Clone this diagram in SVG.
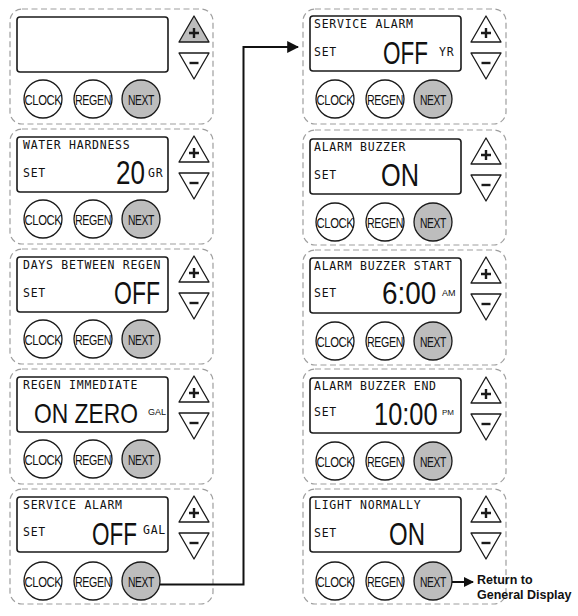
<svg xmlns="http://www.w3.org/2000/svg" width="578" height="616" viewBox="0 0 578 616">
<style>
.frame{fill:none;stroke:#9e9e9e;stroke-width:1.2;stroke-dasharray:6 3.5}
.lcd{fill:#fff;stroke:#1a1a1a;stroke-width:1.6}
.tri{fill:#fff;stroke:#1a1a1a;stroke-width:1.3;stroke-linejoin:round}
.tri.on{fill:#bdbdbd}
.sign{fill:none;stroke:#1a1a1a;stroke-width:2.4}
.btn{fill:#fff;stroke:#1a1a1a;stroke-width:1.3}
.btn.next{fill:#bdbdbd}
.bl{font-family:"Liberation Sans",Arial,sans-serif;font-size:14px;fill:#111;text-anchor:middle;letter-spacing:-0.5px}
.ttl{font-family:"DejaVu Sans Mono",monospace;font-size:11.5px;letter-spacing:0.75px;fill:#111}
.big{font-family:"Liberation Sans",Arial,sans-serif;font-size:31px;fill:#111}
.unit{font-family:"Liberation Sans",Arial,sans-serif;font-size:9px;fill:#111}
.conn{fill:none;stroke:#111;stroke-width:2}
.ret{font-family:"Liberation Sans",Arial,sans-serif;font-size:12.5px;font-weight:bold;fill:#111}
</style>
<defs>
<marker id="ah" viewBox="0 0 10 10" refX="9" refY="5" markerWidth="12" markerHeight="13" markerUnits="userSpaceOnUse" orient="auto"><path d="M0,0 L10,5 L0,10 Z" fill="#111"/></marker>
<marker id="ah2" viewBox="0 0 10 10" refX="9" refY="5" markerWidth="10" markerHeight="10" markerUnits="userSpaceOnUse" orient="auto"><path d="M0,0 L10,5 L0,10 Z" fill="#111"/></marker>
</defs>

<!-- LEFT COLUMN -->
<g id="panel-l1">
<rect class="frame" x="10" y="9" width="203" height="115" rx="12"/>
<rect class="lcd" x="17" y="17" width="151" height="55" rx="3"/>
<path class="tri on" d="M194,16 L209,42 L179,42 Z"/><path class="sign" d="M189,33 h10 M194,28 v10"/>
<path class="tri" d="M179,53 L209,53 L194,79 Z"/><path class="sign" d="M189.5,63 h9"/>
<circle class="btn" cx="43" cy="99" r="19"/><circle class="btn" cx="93" cy="99" r="19"/><circle class="btn next" cx="141" cy="99" r="19"/>
<text class="bl" x="43" y="104.5" textLength="37" lengthAdjust="spacingAndGlyphs">CLOCK</text>
<text class="bl" x="93" y="104.5" textLength="36" lengthAdjust="spacingAndGlyphs">REGEN</text>
<text class="bl" x="141" y="104.5" textLength="26" lengthAdjust="spacingAndGlyphs">NEXT</text>
</g>

<g id="panel-l2">
<rect class="frame" x="10" y="129" width="203" height="115" rx="12"/>
<rect class="lcd" x="17" y="137" width="151" height="55" rx="3"/>
<path class="tri" d="M194,136 L209,162 L179,162 Z"/><path class="sign" d="M189,153 h10 M194,148 v10"/>
<path class="tri" d="M179,173 L209,173 L194,199 Z"/><path class="sign" d="M189.5,183 h9"/>
<circle class="btn" cx="43" cy="219" r="19"/><circle class="btn" cx="93" cy="219" r="19"/><circle class="btn next" cx="141" cy="219" r="19"/>
<text class="bl" x="43" y="224.5" textLength="37" lengthAdjust="spacingAndGlyphs">CLOCK</text>
<text class="bl" x="93" y="224.5" textLength="36" lengthAdjust="spacingAndGlyphs">REGEN</text>
<text class="bl" x="141" y="224.5" textLength="26" lengthAdjust="spacingAndGlyphs">NEXT</text>
<text class="ttl" x="23" y="149">WATER HARDNESS</text>
<text class="ttl" x="23" y="177">SET</text>
<text class="big" style="font-size:33px" transform="translate(116,184) scale(0.79,1)">20</text>
<text class="ttl" x="148" y="177">GR</text>
</g>

<g id="panel-l3">
<rect class="frame" x="10" y="249" width="203" height="115" rx="12"/>
<rect class="lcd" x="17" y="257" width="151" height="55" rx="3"/>
<path class="tri" d="M194,256 L209,282 L179,282 Z"/><path class="sign" d="M189,273 h10 M194,268 v10"/>
<path class="tri" d="M179,293 L209,293 L194,319 Z"/><path class="sign" d="M189.5,303 h9"/>
<circle class="btn" cx="43" cy="339" r="19"/><circle class="btn" cx="93" cy="339" r="19"/><circle class="btn next" cx="141" cy="339" r="19"/>
<text class="bl" x="43" y="344.5" textLength="37" lengthAdjust="spacingAndGlyphs">CLOCK</text>
<text class="bl" x="93" y="344.5" textLength="36" lengthAdjust="spacingAndGlyphs">REGEN</text>
<text class="bl" x="141" y="344.5" textLength="26" lengthAdjust="spacingAndGlyphs">NEXT</text>
<text class="ttl" x="23" y="269">DAYS BETWEEN REGEN</text>
<text class="ttl" x="23" y="297">SET</text>
<text class="big" transform="translate(114,304) scale(0.742,1)">OFF</text>
</g>

<g id="panel-l4">
<rect class="frame" x="10" y="369" width="203" height="115" rx="12"/>
<rect class="lcd" x="17" y="377" width="151" height="55" rx="3"/>
<path class="tri" d="M194,376 L209,402 L179,402 Z"/><path class="sign" d="M189,393 h10 M194,388 v10"/>
<path class="tri" d="M179,413 L209,413 L194,439 Z"/><path class="sign" d="M189.5,423 h9"/>
<circle class="btn" cx="43" cy="459" r="19"/><circle class="btn" cx="93" cy="459" r="19"/><circle class="btn next" cx="141" cy="459" r="19"/>
<text class="bl" x="43" y="464.5" textLength="37" lengthAdjust="spacingAndGlyphs">CLOCK</text>
<text class="bl" x="93" y="464.5" textLength="36" lengthAdjust="spacingAndGlyphs">REGEN</text>
<text class="bl" x="141" y="464.5" textLength="26" lengthAdjust="spacingAndGlyphs">NEXT</text>
<text class="ttl" x="23" y="389">REGEN IMMEDIATE</text>
<text class="big" style="font-size:28px" transform="translate(34,423) scale(0.815,1)">ON ZERO</text>
<text class="unit" x="148" y="415">GAL</text>
</g>

<g id="panel-l5">
<rect class="frame" x="10" y="489" width="203" height="115" rx="12"/>
<rect class="lcd" x="17" y="497" width="151" height="55" rx="3"/>
<path class="tri" d="M194,496 L209,522 L179,522 Z"/><path class="sign" d="M189,513 h10 M194,508 v10"/>
<path class="tri" d="M179,533 L209,533 L194,559 Z"/><path class="sign" d="M189.5,543 h9"/>
<circle class="btn" cx="43" cy="581" r="19"/><circle class="btn" cx="93" cy="581" r="19"/><circle class="btn next" cx="141" cy="581" r="19"/>
<text class="bl" x="43" y="586.5" textLength="37" lengthAdjust="spacingAndGlyphs">CLOCK</text>
<text class="bl" x="93" y="586.5" textLength="36" lengthAdjust="spacingAndGlyphs">REGEN</text>
<text class="bl" x="141" y="586.5" textLength="26" lengthAdjust="spacingAndGlyphs">NEXT</text>
<text class="ttl" x="23" y="509">SERVICE ALARM</text>
<text class="ttl" x="23" y="536">SET</text>
<text class="big" transform="translate(92,545) scale(0.726,1)">OFF</text>
<text class="ttl" x="143" y="534">GAL</text>
</g>

<!-- RIGHT COLUMN -->
<g id="panel-r1">
<rect class="frame" x="303" y="9" width="203" height="115" rx="12"/>
<rect class="lcd" x="310" y="16" width="151" height="55" rx="3"/>
<path class="tri" d="M486,16 L501,42 L471,42 Z"/><path class="sign" d="M481,33 h10 M486,28 v10"/>
<path class="tri" d="M471,53 L501,53 L486,79 Z"/><path class="sign" d="M481.5,63 h9"/>
<circle class="btn" cx="335" cy="99" r="19"/><circle class="btn" cx="385" cy="99" r="19"/><circle class="btn next" cx="433" cy="99" r="19"/>
<text class="bl" x="335" y="104.5" textLength="37" lengthAdjust="spacingAndGlyphs">CLOCK</text>
<text class="bl" x="385" y="104.5" textLength="36" lengthAdjust="spacingAndGlyphs">REGEN</text>
<text class="bl" x="433" y="104.5" textLength="26" lengthAdjust="spacingAndGlyphs">NEXT</text>
<text class="ttl" x="314" y="28">SERVICE ALARM</text>
<text class="ttl" x="314" y="56">SET</text>
<text class="big" transform="translate(383,64) scale(0.726,1)">OFF</text>
<text class="ttl" x="439" y="56">YR</text>
</g>

<g id="panel-r2">
<rect class="frame" x="303" y="130" width="203" height="115" rx="12"/>
<rect class="lcd" x="310" y="139" width="151" height="55" rx="3"/>
<path class="tri" d="M486,138 L501,164 L471,164 Z"/><path class="sign" d="M481,155 h10 M486,150 v10"/>
<path class="tri" d="M471,175 L501,175 L486,201 Z"/><path class="sign" d="M481.5,185 h9"/>
<circle class="btn" cx="335" cy="222" r="19"/><circle class="btn" cx="385" cy="222" r="19"/><circle class="btn next" cx="433" cy="222" r="19"/>
<text class="bl" x="335" y="227.5" textLength="37" lengthAdjust="spacingAndGlyphs">CLOCK</text>
<text class="bl" x="385" y="227.5" textLength="36" lengthAdjust="spacingAndGlyphs">REGEN</text>
<text class="bl" x="433" y="227.5" textLength="26" lengthAdjust="spacingAndGlyphs">NEXT</text>
<text class="ttl" x="314" y="151">ALARM BUZZER</text>
<text class="ttl" x="314" y="179">SET</text>
<text class="big" transform="translate(381,186) scale(0.817,1)">ON</text>
</g>

<g id="panel-r3">
<rect class="frame" x="303" y="250" width="203" height="115" rx="12"/>
<rect class="lcd" x="310" y="258" width="151" height="55" rx="3"/>
<path class="tri" d="M486,257 L501,283 L471,283 Z"/><path class="sign" d="M481,274 h10 M486,269 v10"/>
<path class="tri" d="M471,294 L501,294 L486,320 Z"/><path class="sign" d="M481.5,304 h9"/>
<circle class="btn" cx="335" cy="341" r="19"/><circle class="btn" cx="385" cy="341" r="19"/><circle class="btn next" cx="433" cy="341" r="19"/>
<text class="bl" x="335" y="346.5" textLength="37" lengthAdjust="spacingAndGlyphs">CLOCK</text>
<text class="bl" x="385" y="346.5" textLength="36" lengthAdjust="spacingAndGlyphs">REGEN</text>
<text class="bl" x="433" y="346.5" textLength="26" lengthAdjust="spacingAndGlyphs">NEXT</text>
<text class="ttl" x="314" y="270">ALARM BUZZER START</text>
<text class="ttl" x="314" y="297">SET</text>
<text class="big" transform="translate(382,304) scale(0.9,1)">6:00</text>
<text class="unit" x="442" y="296">AM</text>
</g>

<g id="panel-r4">
<rect class="frame" x="303" y="369" width="203" height="115" rx="12"/>
<rect class="lcd" x="310" y="378" width="151" height="55" rx="3"/>
<path class="tri" d="M486,377 L501,403 L471,403 Z"/><path class="sign" d="M481,394 h10 M486,389 v10"/>
<path class="tri" d="M471,414 L501,414 L486,440 Z"/><path class="sign" d="M481.5,424 h9"/>
<circle class="btn" cx="335" cy="461" r="19"/><circle class="btn" cx="385" cy="461" r="19"/><circle class="btn next" cx="433" cy="461" r="19"/>
<text class="bl" x="335" y="466.5" textLength="37" lengthAdjust="spacingAndGlyphs">CLOCK</text>
<text class="bl" x="385" y="466.5" textLength="36" lengthAdjust="spacingAndGlyphs">REGEN</text>
<text class="bl" x="433" y="466.5" textLength="26" lengthAdjust="spacingAndGlyphs">NEXT</text>
<text class="ttl" x="314" y="390">ALARM BUZZER END</text>
<text class="ttl" x="314" y="416">SET</text>
<text class="big" transform="translate(374,425) scale(0.82,1)">10:00</text>
<text class="unit" x="442" y="415" style="font-size:8px">PM</text>
</g>

<g id="panel-r5">
<rect class="frame" x="303" y="489" width="203" height="115" rx="12"/>
<rect class="lcd" x="310" y="497" width="151" height="55" rx="3"/>
<path class="tri" d="M486,496 L501,522 L471,522 Z"/><path class="sign" d="M481,513 h10 M486,508 v10"/>
<path class="tri" d="M471,533 L501,533 L486,559 Z"/><path class="sign" d="M481.5,543 h9"/>
<circle class="btn" cx="335" cy="581" r="19"/><circle class="btn" cx="385" cy="581" r="19"/><circle class="btn next" cx="433" cy="581" r="19"/>
<text class="bl" x="335" y="586.5" textLength="37" lengthAdjust="spacingAndGlyphs">CLOCK</text>
<text class="bl" x="385" y="586.5" textLength="36" lengthAdjust="spacingAndGlyphs">REGEN</text>
<text class="bl" x="433" y="586.5" textLength="26" lengthAdjust="spacingAndGlyphs">NEXT</text>
<text class="ttl" x="314" y="509">LIGHT NORMALLY</text>
<text class="ttl" x="314" y="537">SET</text>
<text class="big" transform="translate(389,545) scale(0.774,1)">ON</text>
</g>

<g id="return-label">
<text class="ret" x="477" y="584">Return to</text>
<text class="ret" x="477" y="599">General Display</text>
</g>

<g id="connectors">
<path class="conn" d="M160,584.5 H243.5 V47 H298" marker-end="url(#ah)"/>
<path class="conn" d="M452,582 H473" marker-end="url(#ah2)"/>
</g>
</svg>
